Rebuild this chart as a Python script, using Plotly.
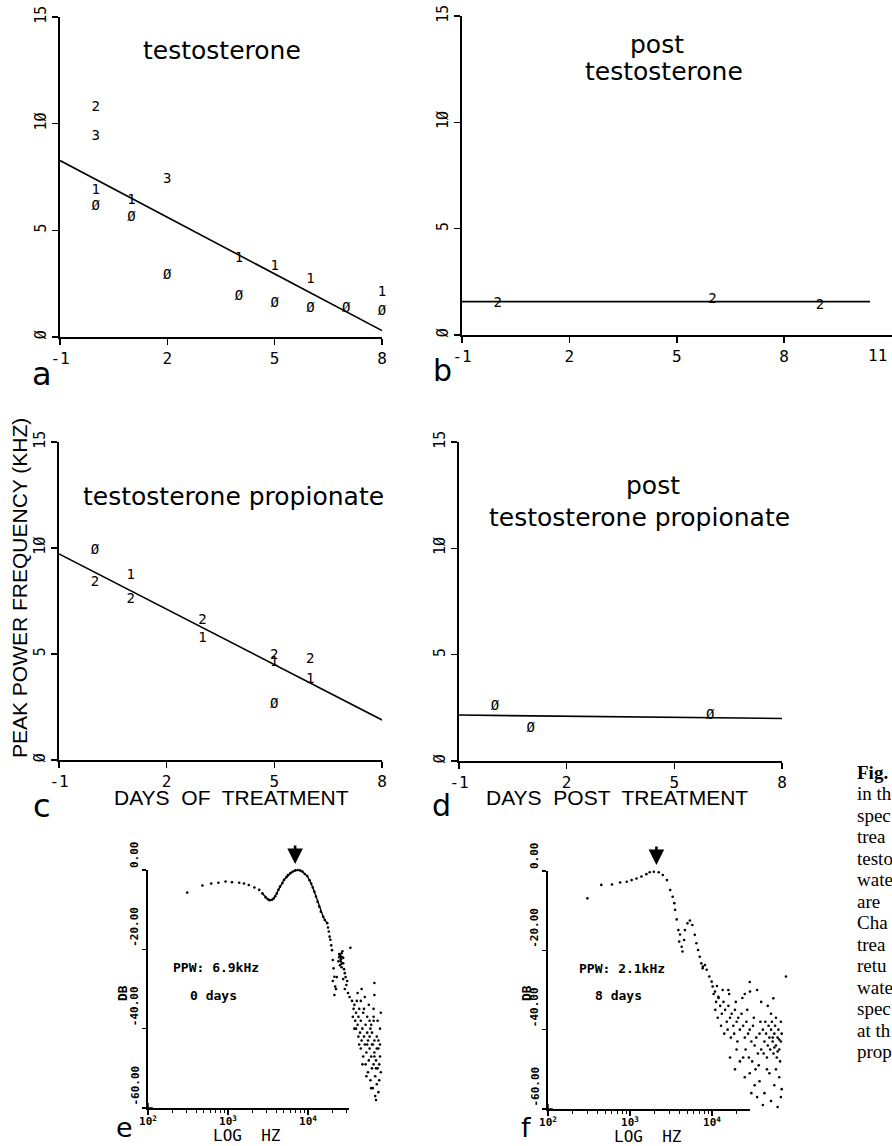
import math
import plotly.graph_objects as go

W, H = 892, 1146


def fx(p):
    return p / W


def fy(p):
    return 1 - p / H


# ---------------- data: peak power frequency panels ----------------
day_ticks = [-1, 2, 5, 8]
day_ticktext = ["-1", "2", "5", "8"]
khz_ticks = [0, 5, 10, 15]
khz_ticktext = ["Ø", "5", "1Ø", "15"]

a_days = [0, 0, 0, 0, 1, 1, 2, 2, 4, 4, 5, 5, 6, 6, 7, 8, 8]
a_khz = [10.75, 9.4, 6.85, 6.1, 6.4, 5.6, 7.4, 2.9, 3.7, 1.9, 3.3, 1.55, 2.7, 1.35, 1.35, 2.1, 1.2]
a_code = ["2", "3", "1", "Ø", "1", "Ø", "3", "Ø", "1", "Ø", "1", "Ø", "1", "Ø", "Ø", "1", "Ø"]
a_fit_days = [-1, 8]
a_fit_khz = [8.27, 0.3]

b_days = [0, 6, 9]
b_khz = [1.46, 1.65, 1.41]
b_code = ["2", "2", "2"]
b_fit_days = [-1, 10.4]
b_fit_khz = [1.57, 1.57]

c_days = [0, 0, 1, 1, 3, 3, 5, 5, 5, 6, 6]
c_khz = [9.9, 8.35, 8.7, 7.55, 6.6, 5.75, 4.95, 4.6, 2.6, 4.75, 3.8]
c_code = ["Ø", "2", "1", "2", "2", "1", "2", "1", "Ø", "2", "1"]
c_fit_days = [-1, 8]
c_fit_khz = [9.72, 1.89]

d_days = [0, 1, 6]
d_khz = [2.55, 1.54, 2.16]
d_code = ["Ø", "Ø", "Ø"]
d_fit_days = [-1, 8]
d_fit_khz = [2.16, 2.0]

# ---------------- data: spectra (log10 Hz, dB) ----------------
hz_ticks = [100, 1000, 10000]
hz_ticktext = ["10<sup>2</sup>", "10<sup>3</sup>", "10<sup>4</sup>"]
hz_minor = [200, 300, 400, 500, 600, 700, 800, 900,
            2000, 3000, 4000, 5000, 6000, 7000, 8000, 9000, 20000, 30000]
db_ticks = [0, -20, -40, -60]
db_ticktext = ["0.00", "-20.00", "-40.00", "-60.00"]

e_ppw_hz = 6900
f_ppw_hz = 2100

e_curve_log = [2.49, 2.68, 2.79, 2.88, 2.97, 3.05, 3.14, 3.20, 3.26, 3.33, 3.39]
e_curve_db = [-5.7, -3.9, -3.4, -3.2, -2.9, -3.1, -3.2, -3.4, -3.8, -4.4, -5.0]

e_peak_log = [3.43, 3.47, 3.50, 3.52, 3.55, 3.57, 3.59, 3.61, 3.63, 3.65, 3.68, 3.70,
              3.73, 3.75, 3.78, 3.81, 3.84, 3.87, 3.90, 3.93, 3.96, 3.99, 4.02, 4.04,
              4.06, 4.08, 4.10, 4.12, 4.14, 4.16, 4.19, 4.21, 4.24]
e_peak_db = [-5.9, -6.9, -7.4, -7.6, -7.5, -7.2, -6.6, -5.9, -5.0, -4.2, -3.3, -2.5,
             -1.8, -1.3, -0.8, -0.4, -0.1, 0.0, -0.1, -0.4, -1.0, -1.5, -2.6, -3.4,
             -4.4, -5.5, -6.7, -8.0, -9.2, -10.5, -11.8, -12.6, -13.4]

e_scatter_log = [4.25, 4.26, 4.27, 4.28, 4.29, 4.30, 4.31, 4.32, 4.33, 4.34, 4.33, 4.31,
                 4.35, 4.36, 4.53,
                 4.39, 4.40, 4.41, 4.42, 4.41, 4.43, 4.44, 4.40, 4.42, 4.45, 4.38, 4.43,
                 4.46, 4.47, 4.44, 4.48, 4.46, 4.50, 4.49, 4.52, 4.41, 4.44, 4.39, 4.42,
                 4.83, 4.83, 4.82, 4.82,
                 4.55, 4.57, 4.56, 4.58, 4.60, 4.59, 4.61, 4.62, 4.60, 4.63, 4.64, 4.65,
                 4.63, 4.66, 4.67, 4.68, 4.66, 4.69, 4.70, 4.71, 4.69, 4.72, 4.73, 4.74,
                 4.72, 4.75, 4.76, 4.77, 4.75, 4.78, 4.79, 4.80, 4.78, 4.81, 4.82, 4.83,
                 4.81, 4.84, 4.85, 4.86, 4.84, 4.87, 4.88, 4.86, 4.89, 4.90, 4.88, 4.91,
                 4.62, 4.66, 4.70, 4.74, 4.77, 4.80, 4.83, 4.86, 4.89, 4.58, 4.64, 4.68,
                 4.73, 4.79, 4.85, 4.90, 4.91, 4.90, 4.87, 4.67, 4.71, 4.76, 4.82, 4.74,
                 4.77, 4.80, 4.85, 4.88, 4.79, 4.83]
e_scatter_db = [-14.5, -15.5, -16.8, -17.6, -19.0, -20.2, -22.7, -24.8, -26.9, -29.4, -31.5, -28.0,
                -30.0, -27.0, -19.6,
                -22.0, -21.5, -22.5, -21.0, -23.0, -22.0, -23.5, -24.0, -24.5, -25.0, -23.0, -20.5,
                -26.0, -27.0, -27.5, -29.0, -30.0, -31.0, -28.0, -32.0, -21.8, -22.2, -21.2, -23.6,
                -28.5, -31.5, -35.0, -38.0,
                -33.0, -35.0, -37.0, -34.0, -36.0, -38.0, -33.0, -39.0, -40.0, -37.0, -35.0, -41.0,
                -42.0, -38.0, -43.0, -40.0, -45.0, -36.0, -42.0, -44.0, -47.0, -39.0, -46.0, -41.0,
                -49.0, -43.0, -48.0, -45.0, -51.0, -40.0, -47.0, -50.0, -53.0, -44.0, -49.0, -46.0,
                -55.0, -52.0, -48.0, -54.0, -57.0, -50.0, -45.0, -42.0, -53.0, -47.0, -56.0, -51.0,
                -31.0, -33.0, -35.0, -37.0, -38.0, -41.0, -43.0, -45.0, -49.0, -40.0, -44.0, -49.0,
                -52.0, -55.0, -58.0, -40.0, -36.0, -44.0, -38.0, -30.0, -32.0, -34.0, -37.0, -44.0,
                -42.0, -44.0, -50.0, -43.0, -39.0, -47.0]

f_curve_log = [2.48, 2.65, 2.78, 2.88, 2.96, 3.02, 3.08, 3.14, 3.20, 3.24, 3.29, 3.35,
               3.40, 3.45, 3.49, 3.52, 3.54, 3.55, 3.57, 3.59, 3.60, 3.61, 3.63, 3.64,
               3.66, 3.67, 3.70, 3.73, 3.76, 3.79, 3.81, 3.83, 3.85, 3.87, 3.89, 3.886,
               3.915, 3.935, 3.967, 3.996, 4.008, 4.037, 4.077, 4.199, 4.463, 4.748, 4.902]
f_curve_db = [-6.9, -3.5, -3.4, -2.9, -2.7, -2.3, -1.9, -1.4, -0.8, -0.3, -0.2, -0.3,
              -1.0, -2.3, -4.8, -6.5, -8.1, -9.8, -12.2, -14.9, -17.8, -16.0, -19.1, -20.3,
              -17.4, -14.9, -13.2, -12.5, -13.6, -16.1, -18.2, -19.9, -21.6, -23.3, -24.1, -24.5,
              -23.7, -24.9, -26.6, -27.9, -29.1, -30.4, -31.7, -30.0, -30.4, -32.1, -26.6]

f_scatter_log = [4.02, 4.05, 4.04, 4.08, 4.10, 4.07, 4.12, 4.14, 4.11, 4.16, 4.18, 4.15,
                 4.20, 4.22, 4.19, 4.24, 4.26, 4.23, 4.28, 4.30, 4.27, 4.32, 4.34, 4.31,
                 4.36, 4.06, 4.13, 4.21, 4.29, 4.37,
                 4.38, 4.40, 4.42, 4.44, 4.41, 4.46, 4.48, 4.45, 4.50, 4.52, 4.49, 4.54,
                 4.56, 4.53, 4.58, 4.60, 4.57, 4.43, 4.51, 4.59,
                 4.62, 4.64, 4.66, 4.68, 4.70, 4.72, 4.74, 4.76, 4.78, 4.80, 4.82, 4.84,
                 4.63, 4.67, 4.71, 4.75, 4.79, 4.83, 4.65, 4.69, 4.73, 4.77, 4.81, 4.85,
                 4.72, 4.78, 4.84, 4.76, 4.80, 4.74, 4.82,
                 4.22, 4.28, 4.34, 4.40, 4.46, 4.52, 4.58, 4.64, 4.70, 4.76, 4.82, 4.84,
                 4.62, 4.72, 4.80, 4.55, 4.48, 4.67, 4.78, 4.85, 4.30, 4.38,
                 4.46, 4.55, 4.68, 4.60, 4.40]
f_scatter_db = [-31, -33, -35, -32, -34, -37, -36, -33, -39, -35, -38, -41,
                -34, -37, -40, -36, -39, -42, -35, -38, -41, -37, -40, -43,
                -36, -29, -30, -31, -33, -32,
                -39, -42, -38, -41, -45, -40, -43, -47, -39, -44, -48, -42,
                -46, -50, -41, -45, -49, -35, -37, -38,
                -40, -43, -41, -44, -42, -40, -43, -41, -44, -42, -45, -43,
                -46, -47, -45, -46, -47, -48, -38, -39, -38, -39, -40, -41,
                -36, -37, -38, -44.5, -45.5, -42, -42.5,
                -47, -50, -48, -52, -51, -54, -53, -56, -51, -54, -52, -57,
                -59, -58, -59.5, -57, -56, -50, -50, -55, -45, -47,
                -28, -30, -34, -33, -31]

caption_lines = ["in th", "spec", "trea", "testo", "wate", "are", "Cha",
                 "trea", "retu", "wate", "spec", "at th", "prop"]

# ---------------- figure ----------------
fig = go.Figure()
BLACK = "black"
MONO = "DejaVu Sans Mono"
SANS = "DejaVu Sans"

lin_panels = [
    # (suffix, x px domain, y px domain, x range, days, khz, code, fit x, fit y)
    ("", (60, 382), (17, 337), [-1, 8], a_days, a_khz, a_code, a_fit_days, a_fit_khz),
    ("2", (462, 891.5), (16, 335), [-1, 11], b_days, b_khz, b_code, b_fit_days, b_fit_khz),
    ("3", (59, 382), (442, 760), [-1, 8], c_days, c_khz, c_code, c_fit_days, c_fit_khz),
    ("4", (459, 782), (442, 761), [-1, 8], d_days, d_khz, d_code, d_fit_days, d_fit_khz),
]

for suf, xd, yd, xr, xs, ys, codes, fxs, fys in lin_panels:
    xa = "x" + suf
    ya = "y" + suf
    fig.add_trace(go.Scatter(x=fxs, y=fys, mode="lines", xaxis=xa, yaxis=ya,
                             line=dict(color=BLACK, width=1.6), hoverinfo="skip"))
    fig.add_trace(go.Scatter(x=xs, y=ys, mode="text", text=codes, xaxis=xa, yaxis=ya,
                             textposition="middle center", cliponaxis=False,
                             textfont=dict(family=MONO, size=14, color=BLACK)))
    fig.update_layout(**{
        "xaxis" + suf: dict(domain=[fx(xd[0]), fx(xd[1])], range=xr, anchor=ya,
                            automargin=False,
                            showline=True, linecolor=BLACK, linewidth=2,
                            ticks="outside", ticklen=6, tickwidth=1.5, tickcolor=BLACK,
                            tickvals=day_ticks, ticktext=day_ticktext,
                            showgrid=False, zeroline=False,
                            tickfont=dict(family=MONO, size=16, color=BLACK)),
        "yaxis" + suf: dict(domain=[fy(yd[1]), fy(yd[0])], range=[0, 15], anchor=xa,
                            automargin=False,
                            showline=True, linecolor=BLACK, linewidth=2,
                            ticks="outside", ticklen=6, tickwidth=1.5, tickcolor=BLACK,
                            tickvals=khz_ticks, ticktext=khz_ticktext, tickangle=-90,
                            showgrid=False, zeroline=False,
                            tickfont=dict(family=MONO, size=15, color=BLACK)),
    })

# "11" label at the right end of panel b
fig.add_annotation(xref="x2", x=11, yref="y2 domain", y=0, yshift=-9, yanchor="top",
                   xanchor="right", xshift=-3, text="11", showarrow=False,
                   font=dict(family=MONO, size=16, color=BLACK))

# spectra: data axis (wide, hidden) + visible axis (ends where the printed axis ends)
spec_panels = [
    ("5", "7", "5", 148, 80, 349, 5.0, (870, 1108),
     [(e_curve_log, e_curve_db, "markers"), (e_peak_log, e_peak_db, "lines+markers"),
      (e_scatter_log, e_scatter_db, "markers")], e_ppw_hz),
    ("6", "8", "6", 548, 82, 750, 4.95, (871, 1109),
     [(f_curve_log, f_curve_db, "markers"), (f_scatter_log, f_scatter_db, "markers")], f_ppw_hz),
]

for dsuf, vsuf, ysuf, x0, dec, xend, dmax, yd, series, ppw in spec_panels:
    xa = "x" + dsuf
    xv = "x" + vsuf
    ya = "y" + ysuf
    for lx, ly, mode in series:
        fig.add_trace(go.Scatter(x=[10 ** v for v in lx], y=ly, mode=mode, xaxis=xa, yaxis=ya,
                                 cliponaxis=False,
                                 line=dict(color=BLACK, width=1.4),
                                 marker=dict(color=BLACK, size=2.6, line=dict(width=0))))
    fig.add_trace(go.Scatter(x=[hz_ticks[0]], y=[db_ticks[-1]], mode="markers", xaxis=xv,
                             yaxis=ya, cliponaxis=False,
                             marker=dict(symbol="cross-thin", size=7, color=BLACK,
                                         line=dict(color=BLACK, width=1.5))))
    vis_end = 2 + (xend - x0) / dec
    fig.update_layout(**{
        "xaxis" + dsuf: dict(type="log", domain=[fx(x0), fx(x0 + dec * (dmax - 2))],
                             range=[2, dmax], anchor=ya, automargin=False,
                             showline=False, showticklabels=False, ticks="",
                             showgrid=False, zeroline=False),
        "xaxis" + vsuf: dict(type="log", domain=[fx(x0), fx(xend)], range=[2, vis_end],
                             anchor=ya, automargin=False,
                             showline=True, linecolor=BLACK, linewidth=2,
                             ticks="outside", ticklen=5, tickwidth=1.5, tickcolor=BLACK,
                             tickvals=hz_ticks, ticktext=hz_ticktext,
                             ticklabelstandoff=-3,
                             minor=dict(tickvals=hz_minor, ticks="outside", ticklen=3,
                                        tickwidth=1, tickcolor=BLACK),
                             showgrid=False, zeroline=False,
                             tickfont=dict(family=MONO, size=11, color=BLACK, weight="bold")),
        "yaxis" + ysuf: dict(domain=[fy(yd[1]), fy(yd[0])], range=[-60, 0], anchor=xv,
                             automargin=False,
                             showline=True, linecolor=BLACK, linewidth=2,
                             ticks="outside", ticklen=4, tickwidth=1.5, tickcolor=BLACK,
                             tickvals=db_ticks, showticklabels=False,
                             showgrid=False, zeroline=False),
    })
    for v, t in zip(db_ticks, db_ticktext):
        fig.add_annotation(xref=xv + " domain", x=0, xanchor="right", xshift=-5,
                           yref=ya, y=v, yanchor="bottom", textangle=-90, text=t,
                           showarrow=False,
                           font=dict(family=MONO, size=11, color=BLACK, weight="bold"))
    fig.add_annotation(xref=xv, x=math.log10(ppw), yref=ya, y=0, text="", showarrow=True,
                       ax=0, ay=-26, standoff=6, arrowhead=2, arrowsize=1.2,
                       arrowwidth=2.6, arrowcolor=BLACK)


def label(x, y, text, size, family=SANS, angle=0, weight="normal", anchor="center"):
    fig.add_annotation(xref="paper", yref="paper", x=fx(x), y=fy(y), text=text,
                       showarrow=False, xanchor=anchor, yanchor="middle", textangle=angle,
                       font=dict(family=family, size=size, color=BLACK, weight=weight))


# panel titles
label(222, 50, "testosterone", 25)
label(657, 45, "post", 25)
label(664, 72, "testosterone", 25)
label(234, 496, "testosterone propionate", 25)
label(653, 485, "post", 25)
label(639, 517, "testosterone propionate", 25)

# axis titles
label(19, 588, "PEAK POWER FREQUENCY (KHZ)", 21, family="Liberation Sans", angle=-90)
label(231, 797, "DAYS  OF  TREATMENT", 21, family="Liberation Sans")
label(617, 797, "DAYS  POST  TREATMENT", 21, family="Liberation Sans")

# spectra labels
label(122, 993, "DB", 13, family=MONO, angle=-90, weight="bold")
label(526, 993, "DB", 13, family=MONO, angle=-90, weight="bold")
label(247, 1135, "LOG  HZ", 16, family=MONO)
label(648, 1136, "LOG  HZ", 16, family=MONO)
label(216, 967, "PPW: 6.9kHz", 13, family=MONO, weight="bold")
label(213, 995, "0 days", 13, family=MONO, weight="bold")
label(622, 968, "PPW: 2.1kHz", 13, family=MONO, weight="bold")
label(618, 995, "8 days", 13, family=MONO, weight="bold")

# panel letters
label(42, 374, "a", 32)
label(442, 370, "b", 30)
label(42, 806, "c", 32)
label(441, 805, "d", 30)
label(125, 1127, "e", 27)
label(526, 1127, "f", 27)

# caption (clipped at the page edge)
label(855, 772, "<b>Fig.</b>", 19, family="Liberation Serif", anchor="left")
for i, t in enumerate(caption_lines):
    label(855, 793.5 + 21.5 * i, t, 19, family="Liberation Serif", anchor="left")

fig.update_layout(width=W, height=H,
                  margin=dict(l=0, r=0, t=0, b=0, pad=0, autoexpand=False),
                  paper_bgcolor="white", plot_bgcolor="rgba(0,0,0,0)", showlegend=False)

fig.write_html("out.html", config={"displayModeBar": False, "staticPlot": True},
               post_script="document.body.style.margin='0px';"
                           "document.body.style.overflow='hidden';")
